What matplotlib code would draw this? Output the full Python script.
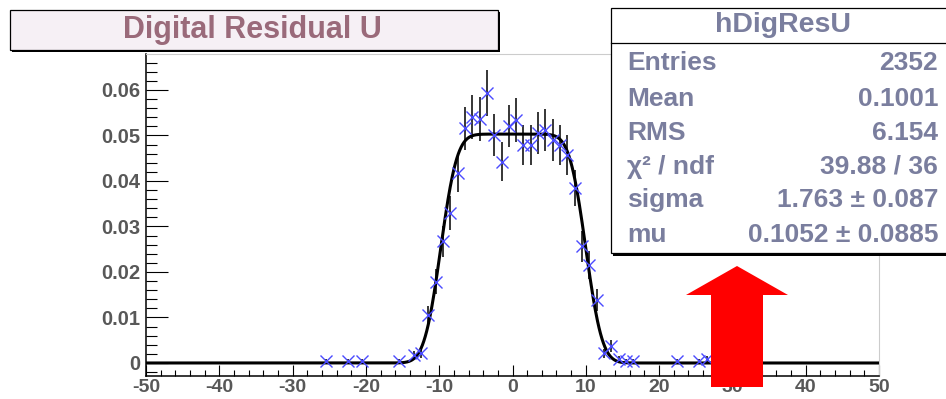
import math
import numpy as np
import matplotlib
matplotlib.use("Agg")
import matplotlib.pyplot as plt
from matplotlib.patches import Rectangle, Polygon
from matplotlib.ticker import MultipleLocator, FuncFormatter

plt.rcParams['font.family'] = ['Liberation Sans', 'DejaVu Sans']
plt.rcParams['font.weight'] = 'bold'

# histogram hDigResU (normalised, bin width 1)
bin_centers = [-25.5, -22.5, -20.5, -15.5, -13.5, -12.5, -11.5, -10.5, -9.5, -8.5,
               -7.5, -6.5, -5.5, -4.5, -3.5, -2.5, -1.5, -0.5, 0.5, 1.5,
               2.5, 3.5, 4.5, 5.5, 6.5, 7.5, 8.5, 9.5, 10.5, 11.5,
               12.5, 13.5, 14.5, 15.5, 16.5, 22.5, 25.5, 26.5]
bin_values = [0.00043, 0.00043, 0.00043, 0.00043, 0.0018, 0.0021, 0.0105, 0.0179, 0.0267, 0.0329,
              0.0417, 0.0516, 0.0541, 0.0536, 0.0593, 0.0501, 0.0442, 0.0521, 0.0534, 0.0479,
              0.0479, 0.0505, 0.0512, 0.0490, 0.0479, 0.0457, 0.0384, 0.0256, 0.0215, 0.0138,
              0.0021, 0.0037, 0.00085, 0.00043, 0.00043, 0.00043, 0.00043, 0.00085]
bin_errors = [0.00043, 0.00043, 0.00043, 0.00043, 0.00088, 0.00095, 0.0021, 0.0028, 0.0034, 0.0037,
              0.0042, 0.0047, 0.0048, 0.0048, 0.0050, 0.0046, 0.0043, 0.0047, 0.0048, 0.0045,
              0.0045, 0.0046, 0.0047, 0.0046, 0.0045, 0.0044, 0.0040, 0.0033, 0.0030, 0.0024,
              0.00095, 0.0013, 0.0006, 0.00043, 0.00043, 0.00043, 0.00043, 0.0006]

# fit: box convolved with gaussian
fit_sigma = 1.763
fit_mu = 0.1052
fit_half_width = 9.9
fit_height = 0.0503

stats_labels = ['Entries', 'Mean', 'RMS', 'χ² / ndf', 'sigma', 'mu']
stats_values = ['2352', '0.1001', '6.154', '39.88 / 36', '1.763 ± 0.087', '0.1052 ± 0.0885']

W, H = 946, 399
fig = plt.figure(figsize=(W / 100, H / 100), dpi=100)


def fx(px):
    return px / W


def fy(py):
    return 1 - py / H


ax = fig.add_axes([fx(146), fy(376), fx(879) - fx(146), fy(54) - fy(376)])

xs = np.linspace(-50, 50, 1001)
erf = np.frompyfunc(math.erf, 1, 1)
s2 = math.sqrt(2) * fit_sigma
fit_y = 0.5 * fit_height * (erf((xs - fit_mu + fit_half_width) / s2).astype(float)
                            - erf((xs - fit_mu - fit_half_width) / s2).astype(float))
ax.plot(xs, fit_y, color='black', lw=2.2, zorder=3)

ax.errorbar(bin_centers, bin_values, yerr=bin_errors, fmt='none', ecolor='black',
            elinewidth=1.1, zorder=2)
ax.plot(bin_centers, bin_values, 'x', color='#4b4bff', ms=8.5, mew=1.0, zorder=4)

ax.set_xlim(-50, 50)
ax.set_ylim(-0.00286, 0.0679)
ax.xaxis.set_major_locator(MultipleLocator(10))
ax.xaxis.set_minor_locator(MultipleLocator(2))
ax.yaxis.set_major_locator(MultipleLocator(0.01))
ax.yaxis.set_minor_locator(MultipleLocator(0.002))
ax.xaxis.set_major_formatter(FuncFormatter(lambda v, p: '%d' % round(v)))
ax.yaxis.set_major_formatter(FuncFormatter(lambda v, p: '0' if abs(v) < 1e-9 else '%.2f' % v))

ax.tick_params(axis='both', which='both', direction='in', color='black', width=0.8,
               labelcolor='#585858')
ax.tick_params(axis='x', which='major', length=8, pad=2, labelsize=14)
ax.tick_params(axis='x', which='minor', length=4)
ax.tick_params(axis='y', which='major', length=16, pad=4, labelsize=14.5)
ax.tick_params(axis='y', which='minor', length=8)
for lab in ax.get_xticklabels() + ax.get_yticklabels():
    lab.set_fontweight('bold')
for side in ['left', 'bottom']:
    ax.spines[side].set_linewidth(1.1)
for side in ['top', 'right']:
    ax.spines[side].set_color('#cccccc')
    ax.spines[side].set_linewidth(0.8)

# title box
fig.patches.append(Rectangle((fx(12), fy(52)), fx(498) - fx(10), fy(10) - fy(50),
                             transform=fig.transFigure, facecolor='black', edgecolor='none', zorder=5))
fig.patches.append(Rectangle((fx(10), fy(50)), fx(498) - fx(10), fy(10) - fy(50),
                             transform=fig.transFigure, facecolor='#f6f0f5', edgecolor='black',
                             lw=0.9, zorder=6))
fig.text(fx(252), fy(30), 'Digital Residual U', ha='center', va='center', color='#9a6a7a',
         fontsize=22, fontweight='bold', zorder=7)

# stats box
fig.patches.append(Rectangle((fx(613), fy(256)), fx(960) - fx(613), fy(10) - fy(256),
                             transform=fig.transFigure, facecolor='black', edgecolor='none', zorder=5))
fig.patches.append(Rectangle((fx(611), fy(253)), fx(960) - fx(611), fy(8) - fy(253),
                             transform=fig.transFigure, facecolor='white', edgecolor='black',
                             lw=0.9, zorder=6))
fig.lines.append(plt.Line2D([fx(611), fx(946)], [fy(43), fy(43)], transform=fig.transFigure,
                            color='black', lw=0.9, zorder=7))
stat_color = '#7a7e9e'
fig.text(fx(783), fy(25), 'hDigResU', ha='center', va='center', color=stat_color,
         fontsize=20.5, fontweight='bold', zorder=7)
row_y = [63, 99, 133, 167, 200, 235]
for lab, val, ry in zip(stats_labels, stats_values, row_y):
    fig.text(fx(627), fy(ry), lab, ha='left', va='center', color=stat_color,
             fontsize=19, fontweight='bold', zorder=7)
    fig.text(fx(938), fy(ry), val, ha='right', va='center', color=stat_color,
             fontsize=19, fontweight='bold', zorder=7)

# red arrow
arrow_px = [(737, 266), (788, 295), (763, 295), (763, 387), (711, 387), (711, 295), (686, 295)]
fig.patches.append(Polygon([(fx(a), fy(b)) for a, b in arrow_px], closed=True,
                           transform=fig.transFigure, facecolor='#ff0000', edgecolor='none', zorder=8))

fig.savefig('out.png', dpi=100, facecolor='white')
